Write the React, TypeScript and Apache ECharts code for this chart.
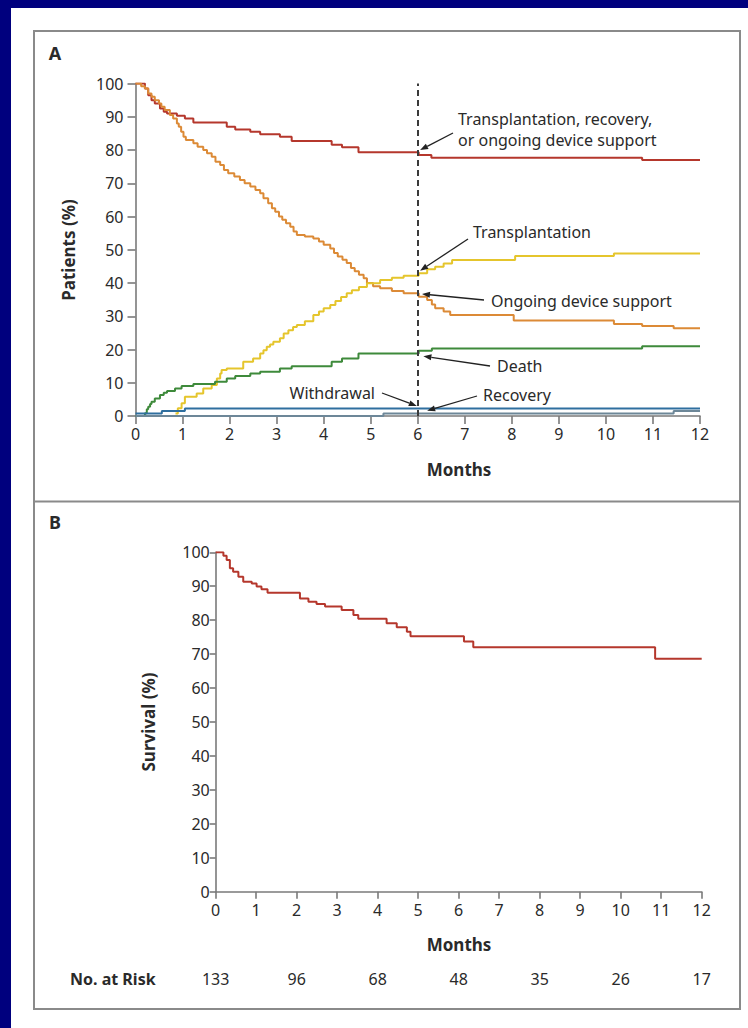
import React, { useEffect, useRef } from "react";
import * as echarts from "echarts";

// ---------- Data (months, percent) ----------
const monthTickLabels = ["0", "1", "2", "3", "4", "5", "6", "7", "8", "9", "10", "11", "12"];

const compositeCurve: number[][] = [
  [0, 100], [0.2, 98.5], [0.27, 96.5], [0.34, 95], [0.41, 94], [0.52, 92.5], [0.6, 91.5],
  [0.67, 91], [0.88, 90.3], [1.05, 89.5], [1.23, 88.3], [1.94, 87], [2.12, 86.2], [2.44, 85.5],
  [2.65, 84.7], [3.07, 84], [3.32, 82.7], [4.17, 81.6], [4.39, 80.8], [4.74, 79.3], [6.02, 78.5],
  [6.29, 77.7], [10.77, 77], [12, 77],
];

const ongoingCurve: number[][] = [
  [0, 100], [0.12, 99.2], [0.2, 98.5], [0.27, 97], [0.34, 96], [0.41, 95], [0.5, 94], [0.55, 93],
  [0.62, 92], [0.73, 90.5], [0.8, 89.5], [0.88, 88], [0.92, 87], [0.97, 85.5], [1.02, 84], [1.07, 83],
  [1.23, 82], [1.32, 81], [1.44, 80], [1.52, 79], [1.62, 78], [1.7, 76.5], [1.8, 75.5], [1.88, 74],
  [1.97, 73], [2.1, 72], [2.22, 71], [2.32, 70], [2.44, 69], [2.55, 68], [2.65, 67], [2.72, 65.5],
  [2.82, 64], [2.9, 62.5], [2.97, 61.4], [3.05, 60], [3.12, 59], [3.2, 58], [3.29, 56.9], [3.36, 55.5],
  [3.43, 54.4], [3.6, 54], [3.78, 53.4], [3.9, 52.5], [4.0, 51.5], [4.14, 50.4], [4.22, 49], [4.3, 48],
  [4.4, 47], [4.49, 46], [4.58, 44.5], [4.66, 43.5], [4.75, 42.5], [4.85, 41.4], [4.92, 40], [5.05, 39],
  [5.2, 38.4], [5.45, 37.6], [5.7, 36.9], [6.02, 35.9], [6.2, 34.9], [6.3, 33.5], [6.37, 32.4],
  [6.55, 31.4], [6.69, 30.4], [8.04, 28.7], [10.17, 27.7], [10.77, 27.1], [11.44, 26.4], [12, 26.4],
];

const transplantCurve: number[][] = [
  [0.85, 0.75], [0.9, 2.3], [0.98, 3.8], [1.05, 5.8], [1.3, 6.8], [1.44, 8.3], [1.62, 9.3], [1.73, 11.3],
  [1.8, 12.8], [1.83, 13.8], [1.94, 14.3], [2.29, 16.3], [2.5, 17.3], [2.65, 18.8], [2.72, 19.8],
  [2.79, 20.8], [2.86, 21.5], [2.93, 22.3], [3.07, 23.4], [3.15, 24.8], [3.25, 25.8], [3.35, 26.8],
  [3.43, 27.4], [3.6, 28.5], [3.78, 30.4], [3.9, 31.4], [4.0, 32.4], [4.14, 33.4], [4.25, 34.6],
  [4.37, 35.8], [4.49, 36.9], [4.6, 37.8], [4.75, 38.8], [4.92, 39.9], [5.2, 40.9], [5.45, 41.6],
  [5.7, 42.2], [6.02, 42.9], [6.2, 44.1], [6.37, 44.9], [6.55, 45.9], [6.73, 46.9], [8.07, 48.1],
  [10.17, 48.9], [12, 48.9],
];

const deathCurve: number[][] = [
  [0, 0], [0.2, 0.8], [0.24, 2], [0.27, 2.8], [0.31, 3.6], [0.34, 4.3], [0.41, 5.3], [0.52, 6.3],
  [0.6, 7], [0.67, 7.5], [0.84, 8.3], [0.98, 9], [1.23, 9.6], [1.69, 10.3], [1.94, 11.3], [2.12, 12],
  [2.44, 12.8], [2.65, 13.3], [3.07, 14.3], [3.32, 15], [4.17, 16.3], [4.39, 17.3], [4.74, 18.8],
  [6.02, 19.6], [6.3, 20.3], [10.77, 21], [12, 21],
];

const withdrawalCurve: number[][] = [[0, 0.75], [0.56, 1.5], [1.05, 2.26], [12, 2.26]];
const recoveryCurve: number[][] = [[0, 0], [5.27, 0.75], [11.44, 1.5], [12, 1.5]];

const survivalCurve: number[][] = [
  [0, 100], [0.19, 99], [0.27, 97.7], [0.35, 95.3], [0.43, 94.3], [0.56, 92.8], [0.68, 91.3],
  [0.89, 90.8], [1.01, 89.9], [1.13, 89.1], [1.28, 88.1], [2.08, 86.4], [2.29, 85.4], [2.49, 84.8],
  [2.7, 84], [3.11, 83], [3.4, 81.5], [3.52, 80.4], [4.22, 79.1], [4.47, 77.9], [4.72, 76.6],
  [4.81, 75.3], [6.13, 73.7], [6.36, 72], [10.85, 68.6], [12, 68.6],
];

const riskMonths = [0, 2, 4, 6, 8, 10, 12];
const riskCounts = [133, 96, 68, 48, 35, 26, 17];

// annotation texts and the curve point (month, percent) each arrow points at
const annotationLabels = [
  ["Transplantation, recovery,", "or ongoing device support"],
  ["Transplantation"],
  ["Ongoing device support"],
  ["Death"],
  ["Withdrawal"],
  ["Recovery"],
];
const annotationTargets: number[][] = [
  [6.05, 80], [6.05, 43.7], [6.09, 36.7], [6.12, 18], [5.98, 3], [6.2, 1.6],
];

// ---------- Layout (pixels) ----------
const annotationLayout = [
  { textX: 458, textY: 119, lineGap: 21, align: "left", tail: [453, 133] },
  { textX: 473, textY: 232, lineGap: 0, align: "left", tail: [468, 239] },
  { textX: 491, textY: 301, lineGap: 0, align: "left", tail: [484, 300] },
  { textX: 497, textY: 366, lineGap: 0, align: "left", tail: [490, 366] },
  { textX: 375, textY: 393, lineGap: 0, align: "right", tail: [382, 393] },
  { textX: 483, textY: 395, lineGap: 0, align: "left", tail: [477, 396] },
];

const FONT = "'Noto Sans', 'DejaVu Sans', sans-serif";
const C_RED = "#b5372c";
const C_ORANGE = "#dc8a36";
const C_YELLOW = "#e5c52c";
const C_GREEN = "#3e8a3b";
const C_BLUE = "#2f6f9f";
const C_RECOV = "#6d8798";
const C_AXIS = "#7a7a7a";
const C_TEXT = "#2a2a2a";

function mkX(i: number, tickLen: number) {
  return {
    type: "value", gridIndex: i, min: 0, max: 12, interval: 1,
    axisLine: { show: true, onZero: false, lineStyle: { color: C_AXIS, width: 1.6 } },
    axisTick: { show: true, inside: false, length: tickLen, lineStyle: { color: C_AXIS, width: 1.6 } },
    axisLabel: {
      color: C_TEXT, fontSize: 16, fontFamily: FONT, margin: 10,
      formatter: (v: number) => monthTickLabels[Math.round(v)] ?? "",
    },
    splitLine: { show: false },
  };
}
function mkY(i: number, tickLen: number, margin: number) {
  return {
    type: "value", gridIndex: i, min: 0, max: 100, interval: 10,
    axisLine: { show: true, lineStyle: { color: C_AXIS, width: 1.6 } },
    axisTick: { show: true, inside: false, length: tickLen, lineStyle: { color: C_AXIS, width: 1.6 } },
    axisLabel: { color: C_TEXT, fontSize: 16, fontFamily: FONT, margin },
    splitLine: { show: false },
  };
}
function stepSeries(data: number[][], color: string, g: number, extra: any = {}) {
  return {
    type: "line", xAxisIndex: g, yAxisIndex: g, data, step: "end", showSymbol: false,
    symbol: "none", lineStyle: { color, width: 2 }, silent: true, ...extra,
  };
}

export default function App() {
  const ref = useRef<HTMLDivElement>(null);
  useEffect(() => {
    document.body.style.margin = "0";
    const chart = echarts.init(ref.current!, null, { renderer: "svg" });
    chart.setOption({
      animation: false,
      backgroundColor: "#00007e",
      grid: [
        { left: 135.5, top: 83.5, width: 564.5, height: 332.5 },
        { left: 215.7, top: 552.3, width: 486, height: 339.4 },
      ],
      xAxis: [mkX(0, 8), mkX(1, 7)],
      yAxis: [mkY(0, 8, 12), mkY(1, 6, 6)],
      series: [
        stepSeries(compositeCurve, C_RED, 0),
        stepSeries(ongoingCurve, C_ORANGE, 0),
        stepSeries(transplantCurve, C_YELLOW, 0),
        stepSeries(deathCurve, C_GREEN, 0),
        stepSeries(recoveryCurve, C_RECOV, 0),
        stepSeries(withdrawalCurve, C_BLUE, 0, {
          markLine: {
            silent: true, symbol: "none", label: { show: false },
            lineStyle: { type: [6, 4], color: "#3a3a3a", width: 2 },
            data: [{ xAxis: 6 }],
          },
        }),
        stepSeries(survivalCurve, C_RED, 1),
      ],
    });

    const px = (g: number, pt: number[]) => chart.convertToPixel({ gridIndex: g }, pt) as number[];
    const graphics: any[] = [];
    // white sheet and panel frame
    graphics.push({ type: "rect", z: -10, shape: { x: 11, y: 8, width: 737, height: 1020 }, style: { fill: "#ffffff" } });
    graphics.push({ type: "rect", z: -9, shape: { x: 34, y: 31, width: 706, height: 978 }, style: { fill: "none", stroke: "#8a8a8a", lineWidth: 2 } });
    graphics.push({ type: "line", z: -9, shape: { x1: 34, y1: 501.5, x2: 740, y2: 501.5 }, style: { stroke: "#8a8a8a", lineWidth: 2 } });

    const txt = (text: string, x: number, y: number, o: any = {}) => ({
      type: "text", x, y, rotation: o.rotation || 0,
      style: {
        text, fill: C_TEXT, fontSize: o.size || 16, fontFamily: FONT, fontWeight: o.weight || "normal",
        align: o.align || "left", verticalAlign: "middle",
      },
    });
    graphics.push(txt("A", 55, 53, { size: 18, weight: "bold", align: "center" }));
    graphics.push(txt("B", 55, 522, { size: 18, weight: "bold", align: "center" }));
    graphics.push(txt("Patients (%)", 68, 250, { size: 17, weight: "bold", align: "center", rotation: Math.PI / 2 }));
    graphics.push(txt("Survival (%)", 148, 722, { size: 17, weight: "bold", align: "center", rotation: Math.PI / 2 }));
    graphics.push(txt("Months", 459, 469, { size: 17, weight: "bold", align: "center" }));
    graphics.push(txt("Months", 459, 944, { size: 17, weight: "bold", align: "center" }));
    graphics.push(txt("No. at Risk", 70, 979, { size: 16, weight: "bold" }));
    riskMonths.forEach((m, i) => {
      const p = px(1, [m, 0]);
      graphics.push(txt(String(riskCounts[i]), p[0], 979, { align: "center" }));
    });

    annotationLabels.forEach((lines, i) => {
      const lay = annotationLayout[i];
      lines.forEach((ln, j) => graphics.push(txt(ln, lay.textX, lay.textY + j * lay.lineGap, { align: lay.align })));
      const tip = px(0, annotationTargets[i]);
      const [tx, ty] = lay.tail;
      const dx = tip[0] - tx, dy = tip[1] - ty;
      const len = Math.sqrt(dx * dx + dy * dy);
      const ux = dx / len, uy = dy / len;
      const hl = 8, hw = 3;
      const bx = tip[0] - ux * hl, by = tip[1] - uy * hl;
      graphics.push({ type: "line", z: 5, shape: { x1: tx, y1: ty, x2: bx, y2: by }, style: { stroke: "#222", lineWidth: 1.3 } });
      graphics.push({
        type: "polygon", z: 5,
        shape: { points: [[tip[0], tip[1]], [bx - uy * hw, by + ux * hw], [bx + uy * hw, by - ux * hw]] },
        style: { fill: "#222" },
      });
    });
    chart.setOption({ graphic: graphics });
    return () => chart.dispose();
  }, []);
  return <div ref={ref} style={{ position: "absolute", left: 0, top: 0, width: 748, height: 1028 }} />;
}
